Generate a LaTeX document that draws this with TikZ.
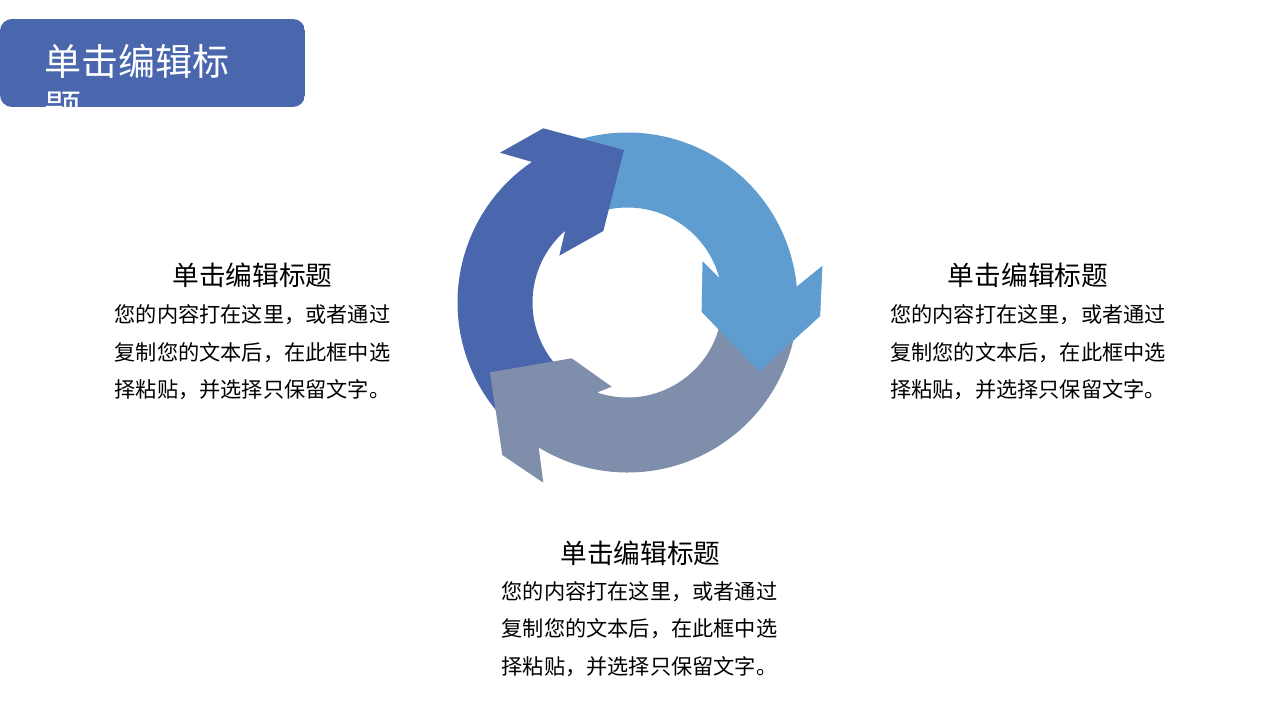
\documentclass[tikz,border=0pt]{standalone}
\usepackage{fontspec}
\setmainfont{Noto Sans CJK SC}
\definecolor{darkarrow}{HTML}{4A67AE}
\definecolor{lightarrow}{HTML}{5F9DD1}
\definecolor{greyarrow}{HTML}{7F8EAA}
\begin{document}
\begin{tikzpicture}[x=1pt,y=-1pt,
  heading/.style={font=\fontsize{26.7}{30}\selectfont, text=black, inner sep=0pt, anchor=base},
  bodyline/.style={font=\fontsize{21.2}{24}\selectfont, text=black, inner sep=0pt, anchor=base},
  boxtitle/.style={font=\fontsize{37}{46}\selectfont, text=white, inner sep=0pt, anchor=base west}]
\useasboundingbox (0,0) rectangle (1280,720);
% title box
\begin{scope}
  \clip[rounded corners=12pt] (0,19) rectangle (305,107);
  \fill[darkarrow] (0,19) rectangle (305,107);
  \node[boxtitle] (boxline1) at (44,75) {单击编辑标};
  \node[boxtitle] (boxline2) at (44,121) {题};
\end{scope}
% circular arrows
\begin{scope}[shift={(627.5,302.5)}]
  \fill[lightarrow] (245:170) arc[start angle=245,end angle=354.7,radius=170]
    -- (194.8,-36.5) -- (192.5,13.5) -- (131.5,69.2) -- (74.2,9.2) -- (75.2,-40.8)
    -- (345.2:95) arc[start angle=345.2,end angle=245,radius=95] -- cycle;
  \fill[darkarrow] (130:170) arc[start angle=130,end angle=235.8,radius=170]
    -- (-127.5,-149.8) -- (-84.2,-174.2) -- (-3.5,-152.5) -- (-24.2,-71.5) -- (-68.2,-46.8)
    -- (229:95) arc[start angle=229,end angle=130,radius=95] -- cycle;
  \fill[greyarrow] (5:170) arc[start angle=5,end angle=121.5,radius=170]
    -- (-84.2,180.2) -- (-125.2,152.5) -- (-137.5,69.8) -- (-55.8,55.8) -- (-15.8,84.2)
    -- (108.7:95) arc[start angle=108.7,end angle=5,radius=95] -- cycle;
  \fill[lightarrow] (354.7:170)
    -- (194.8,-36.5) -- (192.5,13.5) -- (131.5,69.2) -- (74.2,9.2) -- (75.2,-40.8)
    -- (345.2:95) -- cycle;
\end{scope}
% left block
\node[heading] (lefttitle) at (252.5,285.1) {单击编辑标题};
\node[bodyline] (leftl1) at (252.5,322.6) {您的内容打在这里，或者通过};
\node[bodyline] (leftl2) at (252.5,360.6) {复制您的文本后，在此框中选};
\node[bodyline] (leftl3) at (252.5,397.6) {择粘贴，并选择只保留文字。};
% right block
\node[heading] (righttitle) at (1028,285.1) {单击编辑标题};
\node[bodyline] (rightl1) at (1028,322.6) {您的内容打在这里，或者通过};
\node[bodyline] (rightl2) at (1028,360.6) {复制您的文本后，在此框中选};
\node[bodyline] (rightl3) at (1028,397.6) {择粘贴，并选择只保留文字。};
% bottom block
\node[heading] (bottomtitle) at (640.5,563.4) {单击编辑标题};
\node[bodyline] (bottoml1) at (639.5,599.4) {您的内容打在这里，或者通过};
\node[bodyline] (bottoml2) at (639.5,636.9) {复制您的文本后，在此框中选};
\node[bodyline] (bottoml3) at (639.5,674.3) {择粘贴，并选择只保留文字。};
\end{tikzpicture}
\end{document}
